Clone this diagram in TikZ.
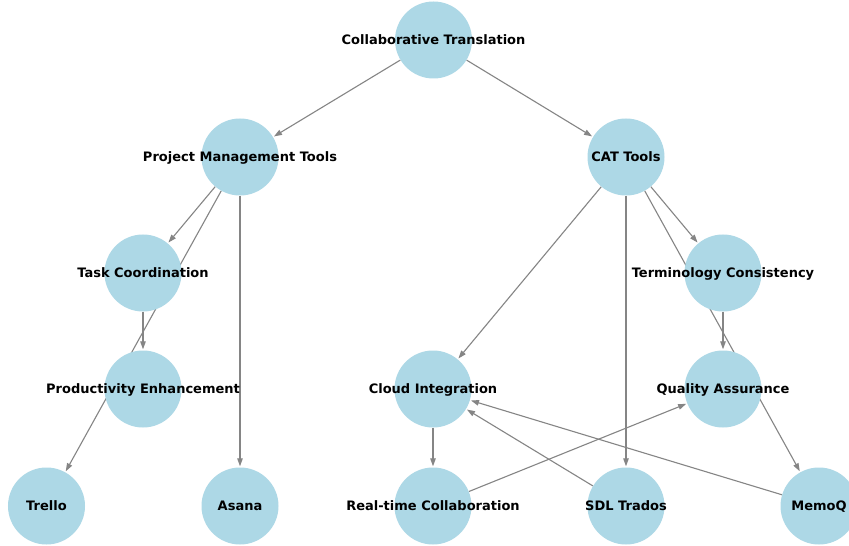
\documentclass[tikz,border=0pt]{standalone}
\usepackage{fontspec}
\setmainfont{DejaVu Sans}
\usetikzlibrary{arrows.meta,backgrounds}
\definecolor{nodeblue}{HTML}{ADD8E6}
\definecolor{edgegray}{HTML}{858585}
\tikzset{
  vert/.style={circle, fill=nodeblue, draw=none, minimum size=77bp, inner sep=0pt},
  lbl/.style={font=\bfseries\fontsize{13bp}{15bp}\selectfont, text=black, inner sep=0pt,
    text height=9.5bp, text depth=1bp},
  edge/.style={draw=edgegray, line width=1.1bp, -{Triangle[length=8bp,width=5.5bp]}, shorten >=1bp}
}
\begin{document}
\begin{tikzpicture}[x=1bp,y=-1bp]
  \useasboundingbox (0,0) rectangle (849,546);
  % vertices
  \node[vert] (ct)  at (433.5,40)  {};
  \node[vert] (pmt) at (240,157) {};
  \node[vert] (cat) at (626,157) {};
  \node[vert] (tc)  at (143,273) {};
  \node[vert] (term) at (723,273) {};
  \node[vert] (pe)  at (143,389) {};
  \node[vert] (ci)  at (433,389) {};
  \node[vert] (qa)  at (723,389) {};
  \node[vert] (trello) at (46.5,506) {};
  \node[vert] (asana)  at (240,506) {};
  \node[vert] (rtc)    at (433,506) {};
  \node[vert] (sdl)    at (626,506) {};
  \node[vert] (memoq)  at (819,506) {};
  % labels
  \node[lbl] at (ct) {Collaborative Translation};
  \node[lbl] at (pmt) {Project Management Tools};
  \node[lbl] at (cat) {CAT Tools};
  \node[lbl] at (tc) {Task Coordination};
  \node[lbl] at (term) {Terminology Consistency};
  \node[lbl] at (pe) {Productivity Enhancement};
  \node[lbl] at (ci) {Cloud Integration};
  \node[lbl] at (qa) {Quality Assurance};
  \node[lbl] at (trello) {Trello};
  \node[lbl] at (asana) {Asana};
  \node[lbl] at (rtc) {Real-time Collaboration};
  \node[lbl] at (sdl) {SDL Trados};
  \node[lbl] at (memoq) {MemoQ};
  % connectors, under the vertices
  \begin{scope}[on background layer]
    \fill[white] (0,0) rectangle (849,546);
    \draw[edge] (ct) -- (pmt);
    \draw[edge] (ct) -- (cat);
    \draw[edge] (pmt) -- (tc);
    \draw[edge] (pmt) -- (trello);
    \draw[edge] (pmt) -- (asana);
    \draw[edge] (tc) -- (pe);
    \draw[edge] (cat) -- (ci);
    \draw[edge] (cat) -- (sdl);
    \draw[edge] (cat) -- (term);
    \draw[edge] (cat) -- (memoq);
    \draw[edge] (term) -- (qa);
    \draw[edge] (ci) -- (rtc);
    \draw[edge] (rtc) -- (qa);
    \draw[edge] (sdl) -- (ci);
    \draw[edge] (memoq) -- (ci);
  \end{scope}
\end{tikzpicture}
\end{document}
